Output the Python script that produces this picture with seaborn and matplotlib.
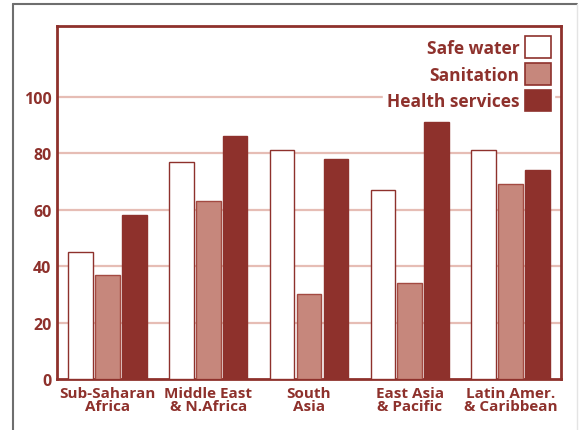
import pandas as pd
import matplotlib.pyplot as plt
import seaborn as sns
from matplotlib.patches import Patch
from matplotlib.lines import Line2D

# data (% of population with access)
regions = ["Sub-Saharan\nAfrica", "Middle East\n& N.Africa", "South\nAsia",
           "East Asia\n& Pacific", "Latin Amer.\n& Caribbean"]
services = ["Safe water", "Sanitation", "Health services"]
safe_water = [45, 77, 81, 67, 81]
sanitation = [37, 63, 30, 34, 69]
health = [58, 86, 78, 91, 74]

dark = "#8E312C"
rose = "#C6877C"
grid_col = "#E6BDB5"
colors = ["#FFFFFF", rose, dark]

df = pd.DataFrame({
    "region": regions * 3,
    "service": [services[0]] * 5 + [services[1]] * 5 + [services[2]] * 5,
    "value": safe_water + sanitation + health,
})

sns.set_style("white")
plt.rcParams["font.family"] = ["Open Sans", "DejaVu Sans"]

fig = plt.figure(figsize=(5.86, 4.31), dpi=100)
ax = fig.add_axes([0.0973, 0.1183, 0.860, 0.819])

sns.barplot(data=df, x="region", y="value", hue="service", order=regions,
            hue_order=services, palette=colors, saturation=1, width=0.8,
            gap=0.08, edgecolor=dark, linewidth=1.0, ax=ax, legend=False,
            zorder=3)

# sanitation bars get a slightly lighter edge
for bar in ax.patches[5:10]:
    bar.set_edgecolor("#A34A42")

ax.set_ylim(0, 125)
ax.set_xlim(-0.5, 4.5)
ax.set_yticks([0, 20, 40, 60, 80, 100])
for y in [20, 40, 60, 80, 100]:
    ax.axhline(y, color=grid_col, lw=1.6, zorder=1)

ax.set_xlabel("")
ax.set_ylabel("")
for s in ax.spines.values():
    s.set_color(dark)
    s.set_linewidth(2)

ax.tick_params(axis="y", length=0, pad=4, labelsize=11.5, labelcolor=dark)
ax.tick_params(axis="x", which="major", length=0, pad=5, labelsize=11,
               labelcolor=dark)
ax.set_xticks([0.5, 1.5, 2.5, 3.5], minor=True)
ax.tick_params(axis="x", which="minor", direction="in", length=5, width=2,
               color=dark)
for lab in ax.get_yticklabels():
    lab.set_fontweight("bold")
for lab in ax.get_xticklabels():
    lab.set_fontweight("bold")
    lab.set_linespacing(0.95)

handles = [Patch(facecolor=c, edgecolor=dark, linewidth=1.2) for c in colors]
leg = ax.legend(handles, services, loc="upper right", markerfirst=False,
                frameon=True, facecolor="white", edgecolor="white",
                framealpha=1, fancybox=False, handlelength=1.5,
                handleheight=1.55, handletextpad=0.3, labelspacing=0.28,
                borderaxespad=0.4, borderpad=0.2,
                prop={"weight": "bold", "size": 12.5})
for t in leg.get_texts():
    t.set_color(dark)
leg.set_zorder(2)

# outer frame of the figure panel
fig.add_artist(Line2D([12.5 / 586, 12.5 / 586], [0, 1 - 4.5 / 431],
                      transform=fig.transFigure, color="#6E6E6E", lw=1.5))
fig.add_artist(Line2D([12.5 / 586, 577 / 586], [1 - 4.5 / 431, 1 - 4.5 / 431],
                      transform=fig.transFigure, color="#6E6E6E", lw=1.5))
fig.add_artist(Line2D([577 / 586, 577 / 586], [0, 1 - 4.5 / 431],
                      transform=fig.transFigure, color="#E4E4E4", lw=1.0))

fig.savefig("out.png", dpi=100)
